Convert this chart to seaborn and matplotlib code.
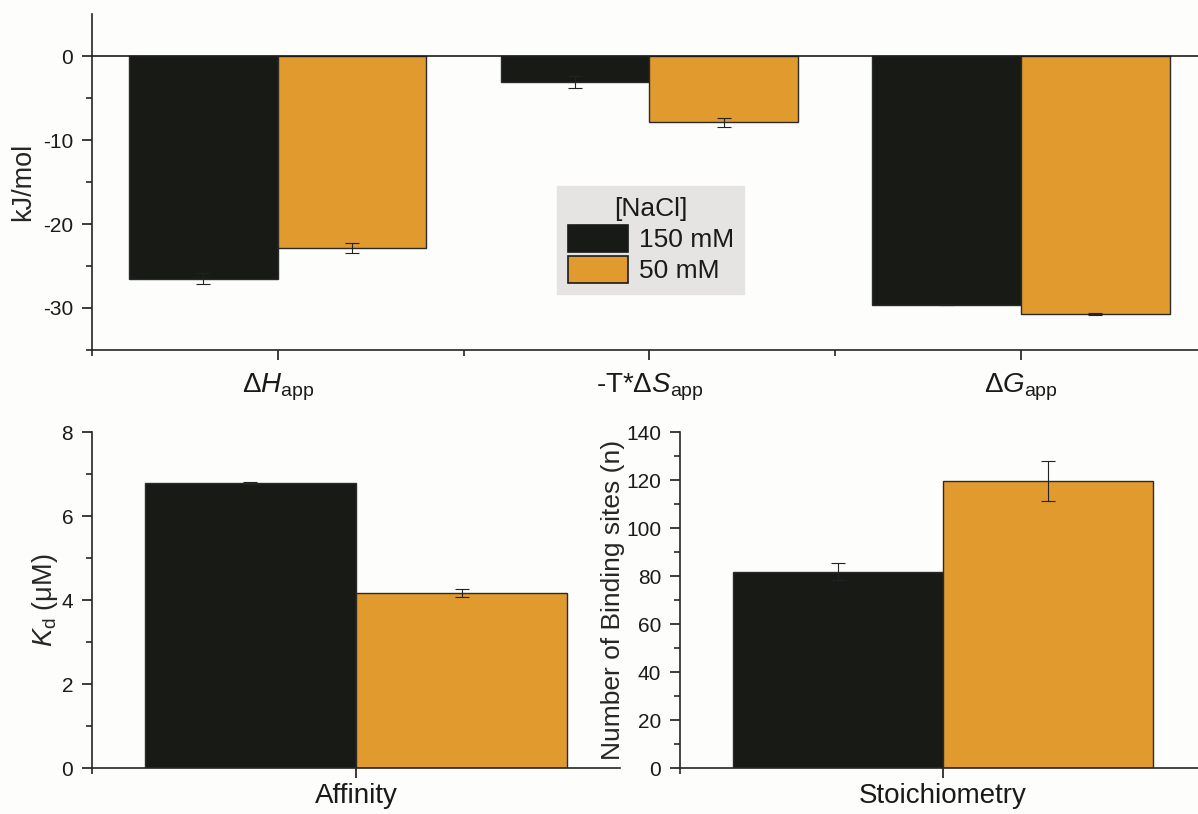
import matplotlib
matplotlib.use("Agg")
import matplotlib.pyplot as plt
import seaborn as sns
import pandas as pd

# ---------------- data ----------------
salts = ["150 mM", "50 mM"]
thermo_terms = ["dH", "-TdS", "dG"]
thermo_labels = [r"Δ$\mathit{H}_{\mathrm{app}}$", r"-T*Δ$\mathit{S}_{\mathrm{app}}$", r"Δ$\mathit{G}_{\mathrm{app}}$"]
thermo_150 = [-26.5, -3.1, -29.6]
thermo_150_err = [0.7, 0.7, 0.05]
thermo_50 = [-22.9, -7.9, -30.7]
thermo_50_err = [0.6, 0.5, 0.1]

kd_label = ["Affinity"]
kd_150 = [6.78]
kd_150_err = [0.02]
kd_50 = [4.17]
kd_50_err = [0.1]

n_label = ["Stoichiometry"]
n_150 = [81.8]
n_150_err = [3.5]
n_50 = [119.6]
n_50_err = [8.5]

colors = ["#181a16", "#e09a2e"]

# ---------------- style ----------------
sns.set_theme(style="ticks")
plt.rcParams["font.family"] = ["Liberation Sans", "DejaVu Sans"]
plt.rcParams["mathtext.fontset"] = "custom"
plt.rcParams["mathtext.rm"] = "Liberation Sans"
plt.rcParams["mathtext.it"] = "Liberation Sans:italic"
plt.rcParams["axes.linewidth"] = 1.2
plt.rcParams["axes.unicode_minus"] = False
plt.rcParams["text.color"] = "#1a1a1a"

W, H = 1198, 814
fig = plt.figure(figsize=(W / 100, H / 100), dpi=100, facecolor="#fdfdfb")


def px_axes(l, r, t, b):
    return fig.add_axes([l / W, 1 - b / H, (r - l) / W, (b - t) / H])


def frame(cats, v150, v50):
    return pd.DataFrame({
        "cat": cats * 2,
        "salt": [salts[0]] * len(cats) + [salts[1]] * len(cats),
        "val": list(v150) + list(v50),
    })


def draw(ax, cats, v150, v50, e150, e50, legend=False):
    df = frame(cats, v150, v50)
    sns.barplot(data=df, x="cat", y="val", hue="salt", hue_order=salts,
                order=cats, palette=colors, errorbar=None, width=0.8,
                saturation=1, edgecolor="#2a2a2a", linewidth=1.0,
                legend=legend, ax=ax)
    for cont, errs in zip(ax.containers, [e150, e50]):
        for bar, e in zip(cont, errs):
            xc = bar.get_x() + bar.get_width() / 2
            yv = bar.get_y() + bar.get_height()
            ax.errorbar(xc, yv, yerr=e, color="#222222", lw=0.8,
                        capsize=5, capthick=0.8, zorder=5)
    ax.set_facecolor("#fdfdfb")
    ax.spines["top"].set_visible(False)
    ax.spines["right"].set_visible(False)
    ax.tick_params(axis="both", which="major", length=7.5, width=1.2,
                   labelsize=15, colors="#1a1a1a")
    ax.tick_params(axis="both", which="minor", length=4, width=1.2)
    ax.tick_params(axis="y", which="major", pad=6)
    ax.tick_params(axis="x", which="major", pad=8)
    ax.set_xlabel("")


# ---------------- top panel ----------------
ax1 = px_axes(92, 1198, 14, 350)
draw(ax1, thermo_terms, thermo_150, thermo_50, thermo_150_err, thermo_50_err, legend=True)
ax1.set_xlim(-0.5, (1198 - 277) / 372)
ax1.set_ylim(-35, 5)
ax1.set_yticks([-30, -20, -10, 0])
ax1.set_yticks([-35, -25, -15, -5], minor=True)
ax1.set_xticks(range(len(thermo_terms)))
ax1.set_xticklabels(thermo_labels, fontsize=20)
ax1.set_xticks([-0.5, 0.5, 1.5], minor=True)
ax1.axhline(0, color="#1a1a1a", lw=1.2, zorder=6)
ax1.set_ylabel("kJ/mol", fontsize=19.5)
ax1.yaxis.set_label_coords((36 - 92) / 1106, 0.5)
leg = ax1.legend(title="[NaCl]", loc="lower left",
                 bbox_to_anchor=((557 - 92) / 1106, (350 - 294) / 336),
                 fontsize=19, title_fontsize=19, frameon=True, fancybox=False,
                 facecolor="#e6e4e2", edgecolor="#e6e4e2", framealpha=1,
                 handlelength=2.3, handleheight=1.2, handletextpad=0.4,
                 borderpad=0.4, labelspacing=0.15, borderaxespad=0)
for h in leg.legend_handles:
    h.set_edgecolor("#1a1a1a")
    h.set_linewidth(1.2)

# ---------------- bottom left ----------------
ax2 = px_axes(92, 620, 432, 768)
draw(ax2, kd_label, kd_150, kd_50, kd_150_err, kd_50_err)
ax2.set_xlim(-0.5, 0.5)
ax2.set_ylim(0, 8)
ax2.set_yticks([0, 2, 4, 6, 8])
ax2.set_yticks([1, 3, 5, 7], minor=True)
ax2.set_xticks([0])
ax2.set_xticklabels(kd_label, fontsize=20)
ax2.tick_params(axis="x", which="major", pad=3)
ax2.set_xticks([-0.5], minor=True)
ax2.set_ylabel(r"$\mathit{K}_{\mathrm{d}}$ (μM)", fontsize=19.5)
ax2.yaxis.set_label_coords((60 - 92) / 528, 0.5)

# ---------------- bottom right ----------------
ax3 = px_axes(680, 1198, 432, 768)
draw(ax3, n_label, n_150, n_50, n_150_err, n_50_err)
ax3.set_xlim(-0.5, (1198 - 942.6) / 527)
ax3.set_ylim(0, 140)
ax3.set_yticks(range(0, 141, 20))
ax3.set_yticks(range(10, 140, 20), minor=True)
ax3.set_xticks([0])
ax3.set_xticklabels(n_label, fontsize=20)
ax3.tick_params(axis="x", which="major", pad=3)
ax3.set_xticks([-0.5], minor=True)
ax3.set_ylabel("Number of Binding sites (n)", fontsize=19)
ax3.yaxis.set_label_coords((625 - 680) / 518, 0.5)

fig.savefig("out.png", dpi=100, facecolor=fig.get_facecolor())
